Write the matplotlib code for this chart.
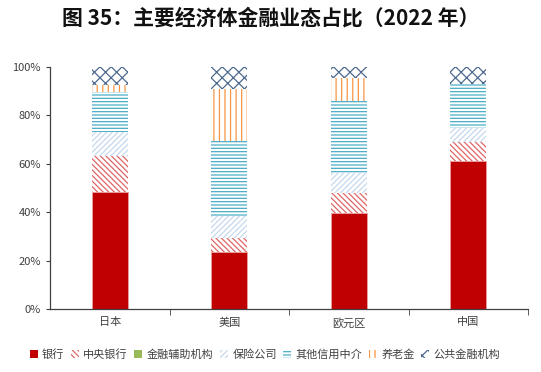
import numpy as np
import matplotlib.pyplot as plt
from matplotlib.patches import Patch
from matplotlib.ticker import FixedLocator, PercentFormatter

plt.rcParams['font.family'] = ['Noto Sans CJK SC', 'DejaVu Sans']
plt.rcParams['hatch.linewidth'] = 0.9

# ============================================================
# 資料
# ============================================================
regions = ["日本", "美国", "欧元区", "中国"]
series_names = ["银行", "中央银行", "金融辅助机构", "保险公司", "其他信用中介", "养老金", "公共金融机构"]

bank      = [48.2, 23.5, 39.6, 61.3]
central   = [15.0,  6.0,  8.5,  7.8]
auxiliary = [ 0.0,  0.0,  0.0,  0.0]
insurance = [10.0,  9.1,  7.9,  5.5]
other     = [16.5, 30.9, 30.0, 18.2]
pension   = [ 3.0, 21.3,  9.6,  0.0]
public    = [ 7.3,  9.2,  4.4,  7.2]

series = [bank, central, auxiliary, insurance, other, pension, public]

# 顏色與花紋
styles = [
    dict(facecolor="#C00000", edgecolor="#E8A0A0", hatch=None),
    dict(facecolor="white", edgecolor="#E06666", hatch="\\\\\\\\\\\\"),
    dict(facecolor="#9BBB59", edgecolor="#9BBB59", hatch=None),
    dict(facecolor="white", edgecolor="#C5D9EE", hatch="//////"),
    dict(facecolor="white", edgecolor="#4BACC6", hatch="-----"),
    dict(facecolor="white", edgecolor="#F79646", hatch="|||"),
    dict(facecolor="white", edgecolor="#4F6A8F", hatch="xxx"),
]

# ============================================================
# 繪圖
# ============================================================
fig = plt.figure(figsize=(5.41, 3.72), dpi=100)
ax = fig.add_axes([50 / 541, 63 / 372, 478 / 541, 242 / 372])

x = np.arange(len(regions))
bottom = np.zeros(len(regions))
for name, vals, st in zip(series_names, series, styles):
    vals = np.array(vals) / 100.0
    lw = 0.6 if (st["hatch"] is None and vals.max() > 0) else 0.0
    ax.bar(x, vals, width=0.3, bottom=bottom, color=st["facecolor"],
           edgecolor=st["edgecolor"], hatch=st["hatch"], linewidth=lw, label=name)
    bottom += vals

ax.set_xlim(-0.5, 3.5)
ax.set_ylim(0, 1.0)
ax.yaxis.set_major_locator(FixedLocator(np.linspace(0, 1, 6)))
ax.yaxis.set_major_formatter(PercentFormatter(1.0, decimals=0))
ax.set_xticks(x)
ax.set_xticklabels(regions)
ax.xaxis.set_minor_locator(FixedLocator([0.5, 1.5, 2.5, 3.5]))
ax.tick_params(axis="x", which="major", length=0, labelsize=8, colors="#404040", pad=6)
ax.tick_params(axis="x", which="minor", length=4, color="#404040", direction="out")
ax.tick_params(axis="y", length=3, labelsize=8, colors="#404040", direction="out")

for side in ["top", "right"]:
    ax.spines[side].set_visible(False)
for side in ["left", "bottom"]:
    ax.spines[side].set_color("#404040")
    ax.spines[side].set_linewidth(0.9)

fig.text(0.5, 0.952, "图 35：主要经济体金融业态占比（2022 年）", ha="center", va="center",
         fontsize=15, fontweight="bold", color="#111111")

handles = [Patch(facecolor=st["facecolor"], edgecolor=st["edgecolor"], hatch=st["hatch"],
                 linewidth=0) for st in styles]
fig.legend(handles, series_names, loc="center", bbox_to_anchor=(0.49, 0.048), ncol=7,
           frameon=False, fontsize=8, handlelength=0.7, handleheight=0.7,
           handletextpad=0.4, columnspacing=0.6, labelcolor="#404040")

fig.savefig("out.png", dpi=100)
